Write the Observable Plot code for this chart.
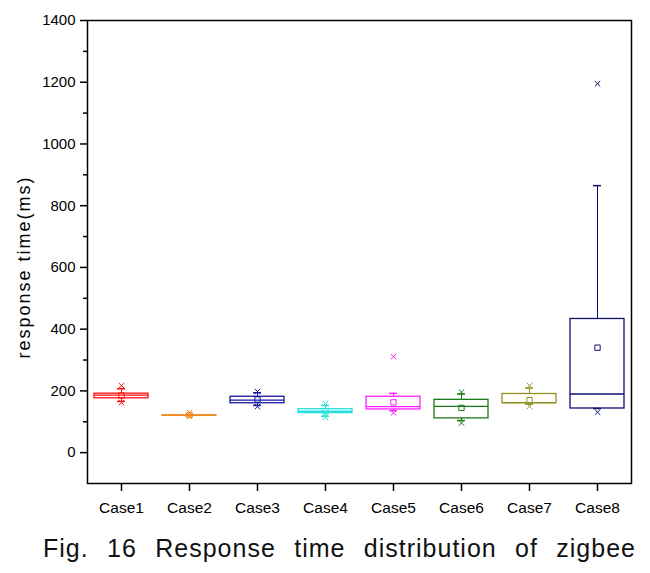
<!DOCTYPE html>
<html>
<head>
<meta charset="utf-8">
<script src="https://cdn.jsdelivr.net/npm/d3@7"></script>
<script src="https://cdn.jsdelivr.net/npm/@observablehq/plot@0.6"></script>
<style>
  html, body { margin: 0; padding: 0; background: #fff; }
  #wrap { position: relative; width: 650px; height: 573px; }
  #caption {
    position: absolute; left: 43px; top: 533px; width: 593px;
    font-family: "Liberation Sans", Arial, sans-serif; font-size: 25px; line-height: 30px;
    letter-spacing: 1px;
    color: #111; text-align: justify; text-align-last: justify; white-space: nowrap;
  }
  svg [aria-label="y-axis label"] { translate: 0 15px; }
  svg [aria-label="y-axis label"] text { font-size: 18px; letter-spacing: 2px; }
  svg [aria-label="x-axis tick label"] text { font-size: 15.5px; }
</style>
</head>
<body>
<div id="wrap">
  <div id="chart"></div>
  <div id="caption">Fig. 16 Response time distribution of zigbee</div>
</div>
<script>
const cases = ["Case1","Case2","Case3","Case4","Case5","Case6","Case7","Case8"];
const colors = ["#ff1010","#f08a24","#1818a0","#28e0e0","#ff20ff","#1a7a1a","#909020","#10106e"];
const q1 = [176,119,160,128,140,111,160,143];
const median = [186,121,170,134,149,150,162,190];
const q3 = [191,121,181,141,181,171,190,433];
const whiskerLo = [166,119,153,118,136,104,157,143];
const whiskerHi = [207,124,194,153,192,190,209,865];
const mean = [185,122,172,134,163,145,170,340];
const markLo = [162,117,149,114,129,96,150,131];
const markHi = [217,130,198,159,311,196,217,1195];
const yTicks = [0,200,400,600,800,1000,1200,1400];
const yMinorTicks = [100,300,500,700,900,1100,1300];

const data = cases.map((c, i) => ({
  case: c, color: colors[i], q1: q1[i], median: median[i], q3: q3[i],
  lo: whiskerLo[i], hi: whiskerHi[i], mean: mean[i]
}));
const marks = cases.flatMap((c, i) => [
  {case: c, color: colors[i], v: markLo[i]},
  {case: c, color: colors[i], v: markHi[i]}
]);

const chart = Plot.plot({
  width: 650,
  height: 525,
  marginLeft: 87,
  marginRight: 19,
  marginTop: 20,
  marginBottom: 42,
  style: {fontFamily: "'Liberation Sans', Arial, sans-serif", fontSize: "15px", color: "#000"},
  x: {domain: cases, padding: 0, label: null},
  y: {domain: [-100, 1400], label: null},
  color: {type: "identity"},
  marks: [
    Plot.axisY({ticks: yTicks, tickFormat: d3.format("d"), tickSize: 7, tickPadding: 5, strokeWidth: 1.5,
      label: "response time(ms)", labelAnchor: "center", labelArrow: "none", labelOffset: 70}),
    Plot.axisY({ticks: yMinorTicks, tickSize: 4, tickFormat: () => "", label: null, strokeWidth: 1.5}),
    Plot.axisX({tickSize: 8, tickPadding: 10, strokeWidth: 1.5, label: null}),
    Plot.frame({stroke: "#000", strokeWidth: 1.5}),
    // whiskers
    Plot.ruleX(data, {x: "case", y1: "lo", y2: "q1", stroke: "color"}),
    Plot.ruleX(data, {x: "case", y1: "q3", y2: "hi", stroke: "color"}),
    Plot.tickY(data, {x: "case", y: "lo", stroke: "color", insetLeft: 30, insetRight: 30, strokeWidth: 1.5}),
    Plot.tickY(data, {x: "case", y: "hi", stroke: "color", insetLeft: 30, insetRight: 30, strokeWidth: 1.5}),
    // boxes
    Plot.barY(data, {x: "case", y1: "q1", y2: "q3", stroke: "color", fill: "none", insetLeft: 7, insetRight: 7, strokeWidth: 1.3}),
    Plot.tickY(data, {x: "case", y: "median", stroke: "color", insetLeft: 7, insetRight: 7, strokeWidth: 1.3}),
    // means
    Plot.dot(data, {x: "case", y: "mean", stroke: "color", symbol: "square", r: 3, strokeWidth: 1}),
    // 1%/99% marks
    Plot.dot(marks, {x: "case", y: "v", stroke: "color", symbol: "times", r: 2.6, strokeWidth: 1})
  ]
});
document.getElementById("chart").appendChild(chart);
</script>
</body>
</html>
